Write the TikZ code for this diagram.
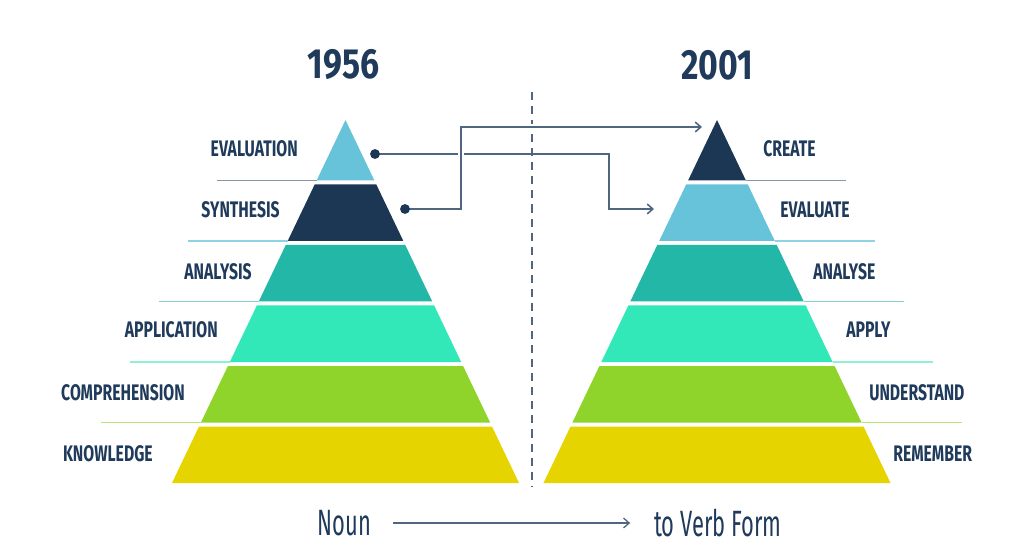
\documentclass[tikz,border=0pt]{standalone}
\usepackage{fontspec}
\usepackage{tikz}
\usetikzlibrary{arrows.meta}
\newfontfamily\labelfont[FakeStretch=0.7]{Fira Sans}
\newfontfamily\yearfont[FakeStretch=0.8]{Fira Sans}
\newfontfamily\formfont[FakeStretch=0.6]{Fira Sans}
\definecolor{navy}{HTML}{1C3754}
\definecolor{inkblue}{HTML}{1F3A5A}
\definecolor{lblue}{HTML}{67C3DA}
\definecolor{teal}{HTML}{22B7A7}
\definecolor{aqua}{HTML}{33E8B8}
\definecolor{lime}{HTML}{8ED42A}
\definecolor{gold}{HTML}{E6D400}
\definecolor{rulea}{HTML}{8597A8}
\definecolor{ruleb}{HTML}{8FD3E3}
\definecolor{rulec}{HTML}{7FD3C8}
\definecolor{ruled}{HTML}{8FF0D5}
\definecolor{rulee}{HTML}{B6E57D}
\definecolor{wire}{HTML}{4F6580}
\tikzset{
  level/.style={inner sep=0pt, text=inkblue, font=\labelfont\bfseries\fontsize{16}{16}\selectfont},
  year/.style={inner sep=0pt, text=inkblue, font=\yearfont\bfseries\fontsize{30}{30}\selectfont},
  form/.style={inner sep=0pt, text=inkblue, font=\formfont\fontsize{26}{26}\selectfont},
  dot/.style={circle, fill=navy, inner sep=0pt, minimum size=7pt},
  wireline/.style={draw=wire, line width=1.1pt, -{Straight Barb[length=4pt,width=7pt]}}
}

\begin{document}
\begin{tikzpicture}[x=0.025cm,y=-0.025cm]
  \useasboundingbox (0,0) rectangle (1024,556);
  \foreach \k/\cl/\cr in {0/lblue/navy,1/navy/lblue,2/teal/teal,3/aqua/aqua,4/lime/lime,5/gold/gold} {
    \pgfmathsetmacro\yt{\k==0 ? 120 : 124+60.5*\k}
    \pgfmathsetmacro\yb{180.5+60.5*\k}
    \pgfmathsetmacro\wt{0.478*(\yt-120)}
    \pgfmathsetmacro\wb{0.478*(\yb-120)}
    \fill[\cl] (345.5-\wt,\yt) -- (345.5+\wt,\yt) -- (345.5+\wb,\yb) -- (345.5-\wb,\yb) -- cycle;
    \fill[\cr] (717-\wt,\yt) -- (717+\wt,\yt) -- (717+\wb,\yb) -- (717-\wb,\yb) -- cycle;
  }
  \foreach \k/\cl in {0/rulea,1/ruleb,2/rulec,3/ruled,4/rulee} {
    \pgfmathsetmacro\yb{180.5+60.5*\k}
    \pgfmathsetmacro\wb{0.478*(\yb-120)}
    \draw[\cl, line width=1.2pt] (245.5-\wb,\yb) -- (345.5-\wb,\yb);
    \draw[\cl, line width=1.2pt] (717+\wb,\yb) -- (817+\wb,\yb);
  }

  \node[year] (old) at (343.5,65) {1956};
  \node[year] (new) at (717,65) {2001};

  \node[level, anchor=east] (evaluation) at (298,149) {EVALUATION};
  \node[level, anchor=east] (synthesis) at (280,210) {SYNTHESIS};
  \node[level, anchor=east] (analysis) at (252,272) {ANALYSIS};
  \node[level, anchor=east] (application) at (218,330) {APPLICATION};
  \node[level, anchor=east] (comprehension) at (185,393) {COMPREHENSION};
  \node[level, anchor=east] (knowledge) at (153,454) {KNOWLEDGE};

  \node[level, anchor=west] (create) at (763,149) {CREATE};
  \node[level, anchor=west] (evaluate) at (780,210) {EVALUATE};
  \node[level, anchor=west] (analyse) at (813,272) {ANALYSE};
  \node[level, anchor=west] (apply) at (846,330) {APPLY};
  \node[level, anchor=west] (understand) at (869,393) {UNDERSTAND};
  \node[level, anchor=west] (remember) at (893,454) {REMEMBER};

  \draw[wire, line width=1pt, dash pattern=on 5.7pt off 4.3pt] (532,92) -- (532,487);

  \coordinate (evdot) at (375,154);
  \coordinate (sydot) at (405,209);
  \coordinate (evbend) at (609,0);
  \coordinate (sybend) at (461,0);
  \coordinate (evtip) at (654,209);
  \coordinate (crtip) at (702,127);
  \draw[wireline] (evdot) -- (evdot -| evbend) |- (evtip);
  \draw[wireline, preaction={draw=white, line width=4pt, -}] (sydot) -- (sydot -| sybend) |- (crtip);
  \node[dot] (evmark) at (evdot) {};
  \node[dot] (symark) at (sydot) {};

  \node[form] (noun) at (344.6,523) {Noun};
  \node[form] (verb) at (718,523) {to Verb Form};
  \draw[wireline, line width=0.9pt, shorten <=0.53cm, shorten >=0.6cm] (noun.east) -- (verb.west);
\end{tikzpicture}
\end{document}
